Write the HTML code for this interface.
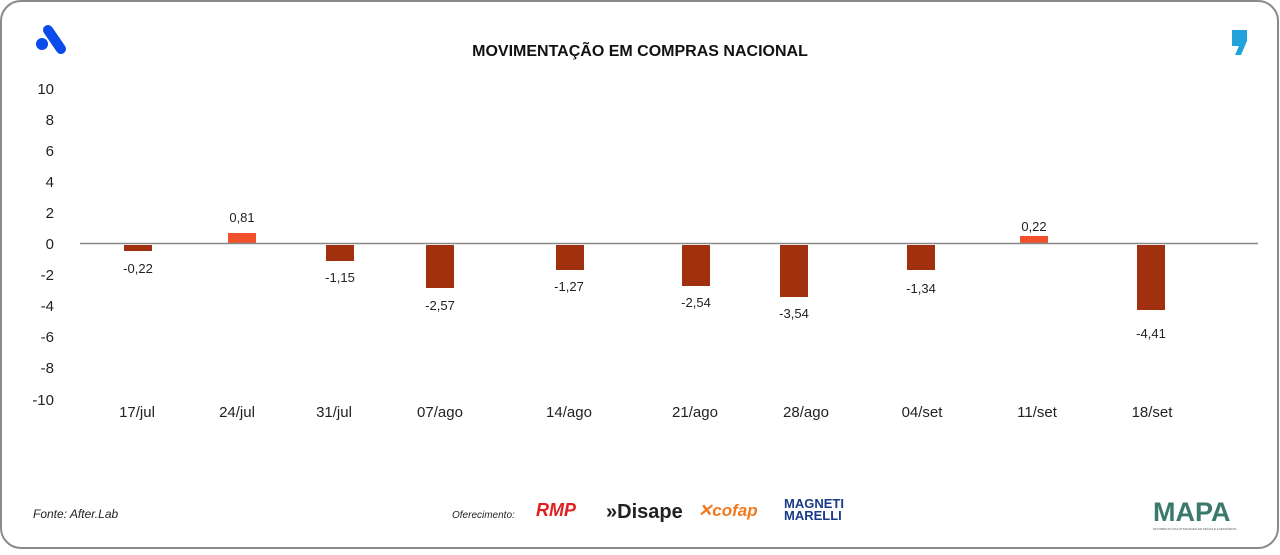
<!DOCTYPE html>
<html><head><meta charset="utf-8"><style>
body{margin:0;width:1280px;height:550px;background:#fff;overflow:hidden;font-family:"Liberation Sans",sans-serif}
</style></head><body>
<svg width="1280" height="550" xmlns="http://www.w3.org/2000/svg" font-family="Liberation Sans, sans-serif">
<rect x="1" y="1" width="1277" height="547" rx="20" fill="#fff" stroke="#8a8a8a" stroke-width="2"/>
<!-- logo A -->
<line x1="48" y1="30" x2="61" y2="49" stroke="#0a4bea" stroke-width="10" stroke-linecap="round"/>
<circle cx="42" cy="44" r="6" fill="#0a4bea"/>
<!-- quote -->
<path d="M1232 30 h15 v11 l-6 14 h-6 l4 -9 h-7z" fill="#22a3dc"/>
<text x="640" y="56" text-anchor="middle" font-size="16" font-weight="bold" fill="#111">MOVIMENTAÇÃO EM COMPRAS NACIONAL</text>
<g font-size="15" fill="#222" text-anchor="end">
<text x="54" y="94">10</text><text x="54" y="125">8</text><text x="54" y="156">6</text><text x="54" y="187">4</text><text x="54" y="218">2</text><text x="54" y="249">0</text><text x="54" y="280">-2</text><text x="54" y="311">-4</text><text x="54" y="342">-6</text><text x="54" y="373">-8</text><text x="54" y="405">-10</text>
</g>
<g fill="#a0300e">
<rect x="124" y="245" width="28" height="6"/>
<rect x="326" y="245" width="28" height="16"/>
<rect x="426" y="245" width="28" height="43"/>
<rect x="556" y="245" width="28" height="25"/>
<rect x="682" y="245" width="28" height="41"/>
<rect x="780" y="245" width="28" height="52"/>
<rect x="907" y="245" width="28" height="25"/>
<rect x="1137" y="245" width="28" height="65"/>
</g>
<g fill="#f0502a">
<rect x="228" y="233" width="28" height="10"/>
<rect x="1020" y="236" width="28" height="7"/>
</g>
<line x1="80" y1="243.5" x2="1258" y2="243.5" stroke="#888" stroke-width="1.5"/>
<g font-size="13" fill="#222" text-anchor="middle">
<text x="138" y="273">-0,22</text>
<text x="242" y="222">0,81</text>
<text x="340" y="282">-1,15</text>
<text x="440" y="310">-2,57</text>
<text x="569" y="291">-1,27</text>
<text x="696" y="307">-2,54</text>
<text x="794" y="318">-3,54</text>
<text x="921" y="293">-1,34</text>
<text x="1034" y="231">0,22</text>
<text x="1151" y="338">-4,41</text>
</g>
<g font-size="15" fill="#222" text-anchor="middle">
<text x="137" y="417">17/jul</text><text x="237" y="417">24/jul</text><text x="334" y="417">31/jul</text><text x="440" y="417">07/ago</text><text x="569" y="417">14/ago</text><text x="695" y="417">21/ago</text><text x="806" y="417">28/ago</text><text x="922" y="417">04/set</text><text x="1037" y="417">11/set</text><text x="1152" y="417">18/set</text>
</g>
<text x="33" y="518" font-size="12" font-style="italic" fill="#222">Fonte: After.Lab</text>
<text x="452" y="518" font-size="10" font-style="italic" fill="#222">Oferecimento:</text>
<text x="536" y="516" font-size="18" font-weight="bold" font-style="italic" fill="#e02020">RMP</text>
<text x="606" y="518" font-size="20" font-weight="bold" fill="#222">»Disape</text>
<text x="698" y="516" font-size="17" font-weight="bold" font-style="italic" fill="#f07a20">✕cofap</text>
<text x="784" y="508" font-size="13" font-weight="bold" fill="#1a3a8a">MAGNETI</text>
<text x="784" y="520" font-size="13" font-weight="bold" fill="#1a3a8a">MARELLI</text>
<text x="1153" y="521" font-size="27" font-weight="bold" fill="#3a7a6a">MAPA</text>
<text x="1153" y="530" font-size="3" fill="#555">MOVIMENTO DAS ATIVIDADES EM PEÇAS E ACESSÓRIOS</text>
</svg>
</body></html>
